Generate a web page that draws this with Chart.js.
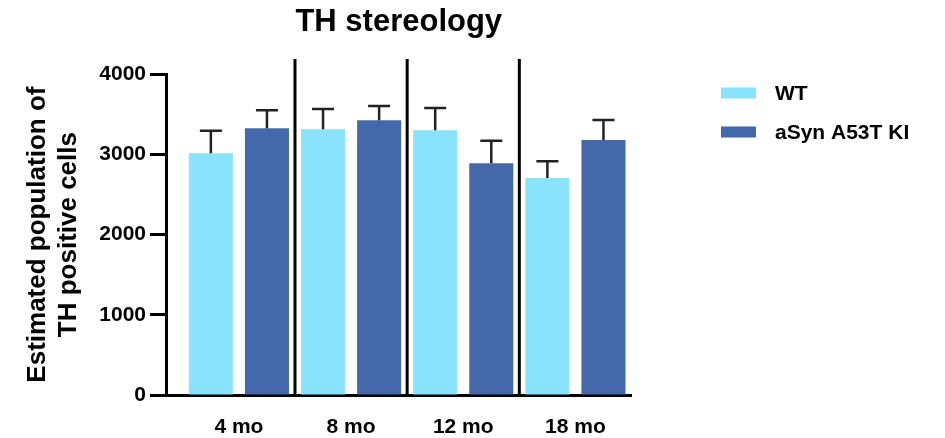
<!DOCTYPE html>
<html>
<head>
<meta charset="utf-8">
<title>TH stereology</title>
<script src="https://cdn.jsdelivr.net/npm/chart.js@4/dist/chart.umd.min.js"></script>
<style>
  html, body { margin: 0; padding: 0; background: #fff; }
  #wrap { width: 945px; height: 438px; }
</style>
</head>
<body>
<div id="wrap"><canvas id="chart" width="945" height="438"></canvas></div>
<script>
// values
const categories = ["4 mo", "8 mo", "12 mo", "18 mo"];
const wtMeans = [3015, 3315, 3300, 2705];
const wtErrors = [280, 250, 280, 210];
const kiMeans = [3325, 3425, 2890, 3180];
const kiErrors = [225, 180, 280, 250];
const yTicks = [0, 1000, 2000, 3000, 4000];

const FONT = "'Liberation Sans', Arial, sans-serif";
Chart.defaults.font.family = FONT;
Chart.defaults.font.weight = "bold";
Chart.defaults.color = "#000";

// error bars, drawn through the y scale
const errorBars = {
    id: "errorBars",
    afterDatasetsDraw(chart) {
        const ctx = chart.ctx;
        const y = chart.scales.y;
        ctx.save();
        ctx.strokeStyle = "#222";
        ctx.lineWidth = 2.5;
        chart.data.datasets.forEach((ds, di) => {
            const meta = chart.getDatasetMeta(di);
            meta.data.forEach((bar, i) => {
                const top = y.getPixelForValue(ds.data[i].y + ds.errors[i]);
                ctx.beginPath();
                ctx.moveTo(bar.x, bar.y);
                ctx.lineTo(bar.x, top);
                ctx.moveTo(bar.x - 11, top);
                ctx.lineTo(bar.x + 11, top);
                ctx.stroke();
            });
        });
        ctx.restore();
    }
};

// vertical separators between age groups
const separators = {
    id: "separators",
    afterDraw(chart) {
        const ctx = chart.ctx;
        const x = chart.scales.x;
        const y = chart.scales.y;
        ctx.save();
        ctx.strokeStyle = "#000";
        ctx.lineWidth = 3;
        for (let i = 0; i < categories.length - 1; i++) {
            const px = x.getPixelForValue(i + 0.5);
            ctx.beginPath();
            ctx.moveTo(px, y.getPixelForValue(4190));
            ctx.lineTo(px, y.getPixelForValue(0));
            ctx.stroke();
        }
        ctx.restore();
    }
};

// legend on the right, same look as the original
const sideLegend = {
    id: "sideLegend",
    afterDraw(chart) {
        const ctx = chart.ctx;
        ctx.save();
        ctx.font = "bold 21px " + FONT;
        ctx.textBaseline = "middle";
        chart.data.datasets.forEach((ds, i) => {
            const cy = 93 + i * 39;
            ctx.fillStyle = ds.backgroundColor;
            ctx.fillRect(721, cy - 5.5, 35, 11);
            ctx.fillStyle = "#000";
            ctx.fillText(ds.label, 775, cy + 1);
        });
        ctx.restore();
    }
};

new Chart(document.getElementById("chart"), {
    type: "bar",
    data: {
        datasets: [
            {
                label: "WT",
                data: wtMeans.map((v, i) => ({ x: i, y: v })),
                errors: wtErrors,
                backgroundColor: "#8AE3FD",
            },
            {
                label: "aSyn A53T KI",
                data: kiMeans.map((v, i) => ({ x: i, y: v })),
                errors: kiErrors,
                backgroundColor: "#4469AA",
            },
        ],
    },
    options: {
        responsive: false,
        animation: false,
        layout: { padding: { left: 0, right: 313.5, top: 0, bottom: 0 } },
        datasets: { bar: { categoryPercentage: 1.0, barPercentage: 0.786 } },
        plugins: {
            legend: { display: false },
            tooltip: { enabled: false },
            title: {
                display: true,
                fullSize: false,
                text: "TH stereology",
                font: { size: 31, weight: "bold" },
                color: "#000",
                padding: { top: 4, bottom: 33 },
            },
        },
        scales: {
            x: {
                type: "linear",
                min: -0.65,
                max: 3.5,
                offset: false,
                afterBuildTicks(scale) {
                    scale.ticks = categories.map((c, i) => ({ value: i }));
                },
                afterFit(scale) { scale.height = 43; },
                ticks: {
                    callback: (v) => categories[v],
                    font: { size: 21, weight: "bold" },
                    color: "#000",
                    padding: 20,
                    maxRotation: 0,
                    autoSkip: false,
                },
                grid: { display: false, drawTicks: false },
                border: { display: true, width: 3, color: "#000" },
            },
            y: {
                min: 0,
                max: 4000,
                afterBuildTicks(scale) {
                    scale.ticks = yTicks.map((v) => ({ value: v }));
                },
                afterFit(scale) { scale.width = 166; },
                ticks: {
                    callback: (v) => String(v),
                    font: { size: 21, weight: "bold" },
                    color: "#000",
                    padding: 4,
                },
                grid: {
                    drawOnChartArea: false,
                    drawTicks: true,
                    tickLength: 16,
                    tickWidth: 3,
                    tickColor: "#000",
                },
                border: { display: true, width: 3, color: "#000" },
                title: {
                    display: true,
                    text: ["Estimated population of", "TH positive cells"],
                    font: { size: 26, weight: "bold" },
                    color: "#000",
                    padding: { top: 22, bottom: 0 },
                },
            },
        },
    },
    plugins: [errorBars, separators, sideLegend],
});
</script>
</body>
</html>
